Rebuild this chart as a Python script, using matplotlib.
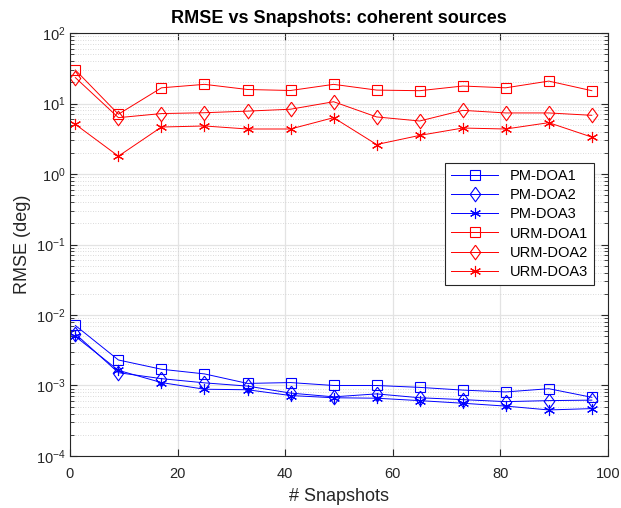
import matplotlib
matplotlib.use("Agg")
import matplotlib.pyplot as plt
from matplotlib.ticker import FixedLocator, NullFormatter, MultipleLocator, LogFormatterSciNotation

plt.rcParams["font.family"] = ["Liberation Sans", "DejaVu Sans"]
plt.rcParams["mathtext.fontset"] = "custom"
plt.rcParams["mathtext.rm"] = "Liberation Sans"
plt.rcParams["mathtext.it"] = "Liberation Sans:italic"
plt.rcParams["mathtext.bf"] = "Liberation Sans:bold"

snapshots = [1, 9, 17, 25, 33, 41, 49, 57, 65, 73, 81, 89, 97]

pm_doa1 = [7.1e-3, 2.3e-3, 1.7e-3, 1.46e-3, 1.07e-3, 1.1e-3, 1.0e-3, 1.0e-3, 9.4e-4, 8.6e-4, 8.1e-4, 9.0e-4, 6.8e-4]
pm_doa2 = [5.4e-3, 1.52e-3, 1.25e-3, 1.09e-3, 9.8e-4, 7.8e-4, 6.9e-4, 7.6e-4, 6.7e-4, 6.3e-4, 5.9e-4, 6.1e-4, 6.2e-4]
pm_doa3 = [4.97e-3, 1.64e-3, 1.1e-3, 8.85e-4, 8.7e-4, 7.2e-4, 6.7e-4, 6.6e-4, 6.1e-4, 5.6e-4, 5.1e-4, 4.5e-4, 4.7e-4]

urm_doa1 = [29.9, 7.05, 16.7, 18.7, 15.8, 15.3, 18.7, 15.5, 15.2, 17.7, 16.7, 20.8, 15.2]
urm_doa2 = [23.3, 6.3, 7.2, 7.4, 7.8, 8.3, 10.6, 6.45, 5.65, 8.0, 7.35, 7.35, 6.8]
urm_doa3 = [5.07, 1.79, 4.64, 4.8, 4.35, 4.35, 6.3, 2.62, 3.53, 4.49, 4.35, 5.35, 3.34]

decades = [1e-4, 1e-3, 1e-2, 1e-1, 1e0, 1e1, 1e2]

asterisk = (6, 2, 0)
diamond = [(0, 1), (0.72, 0), (0, -1), (-0.72, 0), (0, 1)]

series = [
    ("PM-DOA1", pm_doa1, "blue", "s"),
    ("PM-DOA2", pm_doa2, "blue", diamond),
    ("PM-DOA3", pm_doa3, "blue", asterisk),
    ("URM-DOA1", urm_doa1, "red", "s"),
    ("URM-DOA2", urm_doa2, "red", diamond),
    ("URM-DOA3", urm_doa3, "red", asterisk),
]

fig = plt.figure(figsize=(6.21, 5.08), dpi=100)
ax = fig.add_axes([0.1127, 0.1024, 0.979 - 0.1127, 0.935 - 0.1024])

for name, vals, col, mk in series:
    if mk == "s":
        ms = 7
    elif mk is diamond:
        ms = 10.5
    else:
        ms = 8
    ax.plot(snapshots, vals, color=col, marker=mk, markersize=ms,
            markerfacecolor="none", markeredgewidth=0.8,
            linewidth=0.7, label=name)

ax.set_yscale("log")
ax.set_xlim(0, 100)
ax.set_ylim(1e-4, 1e2)
ax.xaxis.set_major_locator(MultipleLocator(20))
ax.yaxis.set_major_locator(FixedLocator(decades))
ax.yaxis.set_major_formatter(LogFormatterSciNotation())
minor = [m * d for d in decades[:-1] for m in range(2, 10)]
ax.yaxis.set_minor_locator(FixedLocator(minor))
ax.yaxis.set_minor_formatter(NullFormatter())

ax.grid(True, which="major", color="#e3e3e3", linewidth=0.9, linestyle="-")
ax.grid(True, which="minor", axis="y", color="#cfcfcf", linewidth=0.6, linestyle=(0, (1, 2)))
ax.set_axisbelow(True)

ax.tick_params(which="both", direction="in", top=True, right=True, labelsize=10.5, colors="#262626")
ax.tick_params(axis="x", which="major", length=5, pad=8)
ax.tick_params(axis="y", which="major", length=5, pad=3)
ax.tick_params(which="minor", length=3)
for sp in ax.spines.values():
    sp.set_color("#262626")
    sp.set_linewidth(0.8)

ax.set_xlabel("# Snapshots", fontsize=13, color="#262626", labelpad=5)
ax.set_ylabel("RMSE (deg)", fontsize=13, color="#262626")
ax.set_title("RMSE vs Snapshots: coherent sources", fontsize=13, fontweight="bold", pad=7)

leg = ax.legend(loc="upper right", bbox_to_anchor=(0.987, 0.709), fontsize=10.5,
                fancybox=False, framealpha=1, edgecolor="#262626",
                handlelength=3.2, borderpad=0.4, labelspacing=0.35)
leg.get_frame().set_linewidth(0.8)

fig.savefig("out.png", dpi=100)
